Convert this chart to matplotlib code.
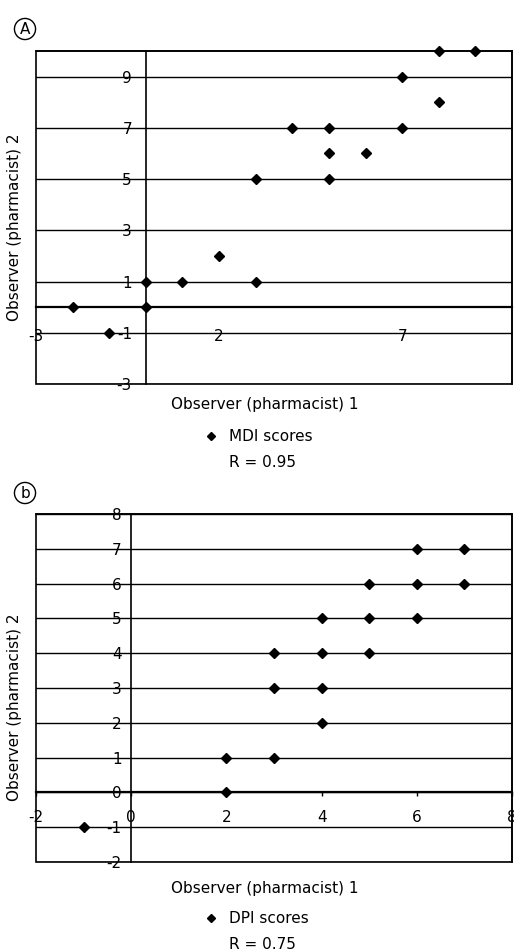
import matplotlib
matplotlib.use("Agg")
import matplotlib.pyplot as plt
from matplotlib.lines import Line2D
from matplotlib.patches import Rectangle

plt.rcParams['font.family'] = ['DejaVu Sans']
plt.rcParams['font.size'] = 11

# panel A: MDI scores
mdi_x = [8, 9, 7, 8, 4, 5, 7, 5, 6, 3, 5, 2, 0, 1, 3, -2, 0, -1]
mdi_y = [10, 10, 9, 8, 7, 7, 7, 6, 6, 5, 5, 2, 1, 1, 1, 0, 0, -1]
mdi_xticks = [-3, 2, 7]
mdi_yticks = [-3, -1, 1, 3, 5, 7, 9]
mdi_r = "R = 0.95"

# panel B: DPI scores
dpi_x = [6, 7, 5, 6, 7, 4, 5, 6, 3, 4, 5, 3, 4, 4, 2, 3, 2, -1]
dpi_y = [7, 7, 6, 6, 6, 5, 5, 5, 4, 4, 4, 3, 3, 2, 1, 1, 0, -1]
dpi_xticks = [-2, 0, 2, 4, 6, 8]
dpi_yticks = [-2, -1, 0, 1, 2, 3, 4, 5, 6, 7, 8]
dpi_r = "R = 0.75"

W, H = 514, 952
fig = plt.figure(figsize=(W / 100, H / 100), dpi=100)


def px(x0, y0, x1, y1):
  return [x0 / W, 1 - y1 / H, (x1 - x0) / W, (y1 - y0) / H]


def panel(rect, xs, ys, xlim, ylim, xticks, yticks, xtick_len, xpad, ypad):
  ax = fig.add_axes(rect)
  ax.set_xlim(*xlim)
  ax.set_ylim(*ylim)
  ax.set_xticks(xticks)
  ax.set_yticks(yticks)
  ax.set_xticklabels([str(t) for t in xticks])
  ax.set_yticklabels([str(t) for t in yticks])
  ax.yaxis.grid(True, color='black', lw=1.0)
  ax.set_axisbelow(True)
  # axes cross at zero, like the spreadsheet chart
  ax.spines['left'].set_position(('data', 0))
  ax.spines['bottom'].set_position(('data', 0))
  for s in ['top', 'right', 'left']:
    ax.spines[s].set_linewidth(1.2)
  ax.spines['bottom'].set_linewidth(1.6)
  ax.add_patch(Rectangle((0, 0), 1, 1, transform=ax.transAxes, fill=False,
                         ec='black', lw=1.2, clip_on=False, zorder=5))
  ax.tick_params(axis='y', length=0, pad=ypad)
  ax.tick_params(axis='x', length=xtick_len, direction='out', width=1, pad=xpad)
  ax.plot(xs, ys, ls='none', marker='D', ms=5.5, color='black', clip_on=False, zorder=6)
  return ax


axA = panel(px(36, 51, 512, 384), mdi_x, mdi_y, (-3, 10), (-3, 10),
            mdi_xticks, mdi_yticks, 0, 16, 10)
axB = panel(px(36, 514, 512, 862), dpi_x, dpi_y, (-2, 8), (-2, 8),
            dpi_xticks, dpi_yticks, 3, 10, 7)

for yc, xlab_y in [(227, 405), (707, 889)]:
  fig.text(15 / W, 1 - yc / H, "Observer (pharmacist) 2", rotation=90,
           ha='center', va='center')
  fig.text(265 / W, 1 - xlab_y / H, "Observer (pharmacist) 1",
           ha='center', va='center')

for name, r, top in [("MDI scores", mdi_r, 429), ("DPI scores", dpi_r, 911)]:
  handles = [Line2D([], [], ls='none', marker='D', ms=4.5, color='black'),
             Line2D([], [], ls='none')]
  fig.legend(handles, [name, r], loc='upper left',
             bbox_to_anchor=(203 / W, 1 - top / H), frameon=False,
             handlelength=1.0, handletextpad=0.7, borderpad=0,
             borderaxespad=0, labelspacing=0.75)

fig.text(25 / W, 1 - 29 / H, "A", ha='center', va='center',
         bbox=dict(boxstyle='circle,pad=0.2', fc='none', ec='black', lw=1))
fig.text(25 / W, 1 - 493 / H, "b", ha='center', va='center',
         bbox=dict(boxstyle='circle,pad=0.2', fc='none', ec='black', lw=1))

fig.savefig("out.png", dpi=100)
